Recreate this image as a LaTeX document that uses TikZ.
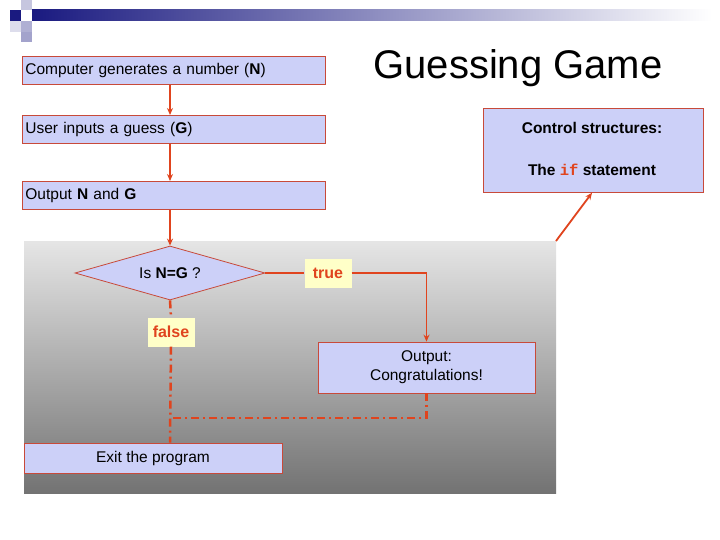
\documentclass[tikz,border=0pt]{standalone}
\usepackage{fontspec}
\setmainfont{Liberation Sans}
\setmonofont{Liberation Mono}
\usetikzlibrary{shapes.geometric,arrows.meta}
\definecolor{bfill}{HTML}{CCD0F8}
\definecolor{bline}{HTML}{C84A3A}
\definecolor{arr}{HTML}{E0441E}
\definecolor{navy}{HTML}{1A1A80}
\definecolor{lbl}{HTML}{FFFFC8}
\tikzset{
 box/.style={draw=bline,fill=bfill,line width=0.8pt,inner sep=0pt},
 flow/.style={draw=arr,line width=1.8pt,-{Stealth[length=7pt,width=6pt]}},
 dflow/.style={draw=arr,line width=2.5pt,dash pattern=on 8pt off 4pt on 2pt off 4pt},
 lab/.style={fill=lbl,text=arr,font=\bfseries\fontsize{16}{18}\selectfont,minimum width=47pt,minimum height=29pt,inner sep=0pt},
 txt/.style={font=\fontsize{15.5}{19}\selectfont}
}
\begin{document}
\begin{tikzpicture}[x=1pt,y=-1pt]
\useasboundingbox (0,0) rectangle (720,540);
\fill[white] (0,0) rectangle (720,540);
% header
\shade[left color=navy,right color=white] (32,10) rectangle (712,21);
\fill[navy] (10,10) rectangle (21,21);
\fill[navy!25] (21,0) rectangle (32,10);
\fill[navy!35] (21,21) rectangle (32,32);
\fill[navy!15] (10,21) rectangle (21,32);
\fill[navy!40] (21,32) rectangle (32,42);
% panel
\shade[top color=black!10,bottom color=black!55] (24,241) rectangle (556,493);
% boxes
\node[box,minimum width=303pt,minimum height=28pt,anchor=north west,text width=297pt,align=left,txt] (comp) at (22,56) {Computer generates a number (\textbf{N})};
\node[box,minimum width=303pt,minimum height=28pt,anchor=north west,text width=297pt,align=left,txt] (user) at (22,115) {User inputs a guess (\textbf{G})};
\node[box,minimum width=303pt,minimum height=28pt,anchor=north west,text width=297pt,align=left,txt] (out) at (22,181) {Output \textbf{N} and \textbf{G}};
\node[font=\fontsize{40}{44}\selectfont] (title) at (518,68) {Guessing Game};
\node[box,minimum width=220pt,minimum height=84pt,anchor=north west] (ctrl) at (483,108) {};
\node[font=\bfseries\fontsize{15.5}{19}\selectfont] (c1) at (592,128) {Control structures:};
\node[font=\bfseries\fontsize{15.5}{19}\selectfont] (c2) at (592,170) {The \textcolor{arr}{\texttt{if}} statement};
\node[box,diamond,aspect=3.5,minimum width=190pt,minimum height=54pt] (dia) at (170,273) {};
\node[txt] at (170,273) {Is \textbf{N=G} ?};
\node[lab] (true) at (328,273) {true};
\node[lab] (false) at (171,332) {false};
\node[box,minimum width=217pt,minimum height=51pt,align=center,txt] (cong) at (426.5,367.5) {Output:\\Congratulations!};
\node[box,minimum width=258pt,minimum height=30pt,txt] (exit) at (153,458) {Exit the program};
\coordinate (pc) at (556,241);
\coordinate (j) at (170,418);
% connectors
\draw[flow] (comp.south -| 170,0) -- (user.north -| 170,0);
\draw[flow] (user.south -| 170,0) -- (out.north -| 170,0);
\draw[flow] (out.south -| 170,0) -- (dia.north);
\draw[arr,line width=1.8pt] (dia.east) -- (true.west);
\draw[flow] (true.east) -| (cong.north);
\draw[dflow] (dia.south) -- (false.north);
\draw[dflow] (false.south) -- (exit.north -| 170,0);
\draw[dflow] (cong.south) |- (j);
\draw[flow] (pc) -- (ctrl.south -| 592,0);
\end{tikzpicture}
\end{document}
